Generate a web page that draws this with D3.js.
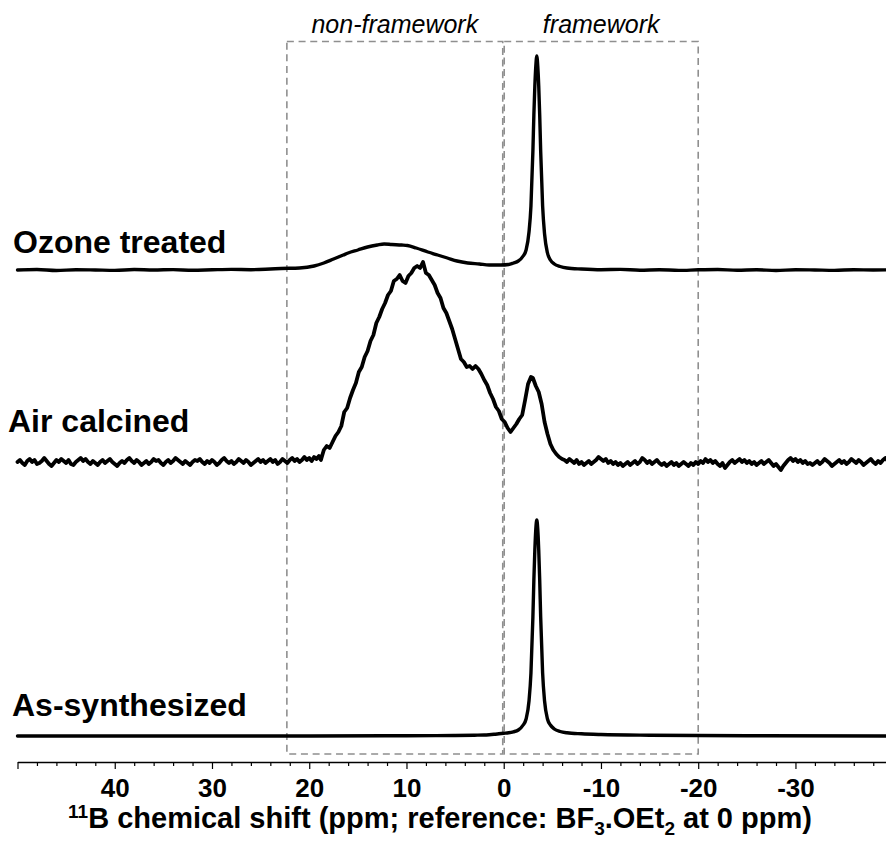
<!DOCTYPE html>
<html><head><meta charset="utf-8">
<script src="https://cdn.jsdelivr.net/npm/d3@7"></script>
<style>body{margin:0;background:#fff}svg{display:block}</style>
</head><body>
<svg id="chart" width="886" height="845"></svg>
<script>
// ---------- data ----------
const majorTicks = [40, 30, 20, 10, 0, -10, -20, -30];
const majorTickLabels = ["40", "30", "20", "10", "0", "-10", "-20", "-30"];
const minorTicks = [48,46,44,42,38,36,34,32,28,26,24,22,18,16,14,12,8,6,4,2,-2,-4,-6,-8,-12,-14,-16,-18,-22,-24,-26,-28,-32,-34,-36,-38];
const axisEndTick = [50];
const seriesNames = ["Ozone treated", "Air calcined", "As-synthesized"];
const regionNames = ["non-framework", "framework"];
const regionBounds = [[22.3, 0.1], [-0.05, -20]];

// [ppm, intensity (a.u.)]
const ozoneTreated = [
 [50,0],[48,0.5],[46,-0.5],[44,0.3],[42,0],[40,-0.4],[38,0.5],[36,0],[34,0.4],[32,-0.3],[30,0.2],[28,0.6],[26,0.3],[24,1],[22.9,1.5],[21,2],[19.5,4],[18.5,7],[17.5,11],[16.5,15],[16,17],[15,20],[14,23],[13,25],[12.3,26],[11.5,25.5],[10.5,25],[9.9,24.5],[9,22],[7.8,18],[6.8,15],[5.8,12],[4.8,9],[3.7,7],[2.5,6],[1.5,5],[0.3,5],[-0.5,5.5],[-1.0,7],[-1.5,9],[-2.0,14],[-2.3,20],[-2.6,38],[-2.8,64],[-3.0,119],[-3.1,155],[-3.2,184],[-3.3,204],[-3.4,214],[-3.5,204],[-3.6,184],[-3.7,155],[-3.8,119],[-4.0,64],[-4.2,36],[-4.5,17],[-4.8,10],[-5.2,6],[-5.8,3.5],[-6.5,2],[-8,1],[-10,0.3],[-12,0.6],[-14,-0.2],[-16,0.3],[-18,-0.4],[-20,0.2],[-22,0.5],[-24,-0.3],[-26,0.2],[-28,-0.5],[-30,0.3],[-32,0],[-34,-0.4],[-36,0.3],[-38,0],[-40,0.2]
];

const airCalcined = [
 [50,0],[49.75,2],[49.5,-1],[49.25,-3],[49,1],[48.75,3],[48.5,0],[48.25,2],[48,-2],[47.75,-1],[47.5,1],[47.25,4],[47,1],[46.75,-2],[46.5,-4],[46.25,-1],[46,2],[45.75,0],[45.5,3],[45.25,1],[45,-1],[44.75,2],[44.5,-2],[44.25,-3],[44,0],[43.75,2],[43.5,4],[43.25,1],[43,3],[42.75,0],[42.5,-2],[42.25,1],[42,-1],[41.75,-3],[41.5,0],[41.25,2],[41,-1],[40.75,1],[40.5,3],[40.25,0],[40,-2],[39.75,-4],[39.5,-1],[39.25,1],[39,-1],[38.75,2],[38.5,4],[38.25,1],[38,-1],[37.75,2],[37.5,0],[37.25,-3],[37,-1],[36.75,1],[36.5,-2],[36.25,0],[36,3],[35.75,1],[35.5,2],[35.25,-1],[35,-3],[34.75,0],[34.5,2],[34.25,-1],[34,1],[33.75,4],[33.5,2],[33.25,0],[33,-2],[32.75,1],[32.5,-1],[32.25,-3],[32,0],[31.75,2],[31.5,1],[31.25,3],[31,0],[30.75,-2],[30.5,1],[30.25,-1],[30,2],[29.75,0],[29.5,-3],[29.25,-1],[29,2],[28.75,4],[28.5,1],[28.25,-1],[28,1],[27.75,-2],[27.5,0],[27.25,3],[27,1],[26.75,-1],[26.5,2],[26.25,0],[26,-3],[25.75,-1],[25.5,1],[25.25,3],[25,0],[24.75,2],[24.5,-1],[24.25,1],[24,3],[23.75,0],[23.5,2],[23.25,-2],[23,0],[22.75,3],[22.5,1],[22.25,-1],[22,2],[21.75,4],[21.5,1],[21.25,3],[21,0],[20.75,2],[20.5,5],[20.25,2],[20,4],[19.75,1],[19.5,5],[19.25,3],[19,6],
 [18.8,2],[18.5,12],[18.2,16],[17.9,14],[17.6,20],[17.3,26],[17.0,30],[16.7,36],[16.4,50],[16.1,54],[15.8,64],[15.5,72],[15.2,79],[14.9,90],[14.6,95],[14.3,105],[14.0,111],[13.7,121],[13.4,127],[13.1,139],[12.8,145],[12.5,153],[12.2,159],[11.9,167],[11.6,171],[11.3,181],[11.0,183],[10.7,187],[10.4,181],[10.1,179],[9.8,186],[9.5,189],[9.2,194],[8.9,196],[8.6,194],[8.3,200],[8.0,189],[7.7,187],[7.4,182],[7.1,177],[6.8,169],[6.5,164],[6.2,154],[5.9,149],[5.6,141],[5.3,133],[5.0,123],[4.7,113],[4.4,103],[4.1,100],[3.8,95],[3.5,96],[3.2,93],[2.9,96],[2.6,93],[2.3,88],[2.0,82],[1.7,77],[1.4,69],[1.1,63],[0.8,55],[0.5,51],[0.2,43],[-0.1,40],[-0.4,34],[-0.7,30],[-1.0,34],[-1.3,38],[-1.6,43],[-1.9,47],[-2.2,62],[-2.5,78],[-2.8,85],[-3.0,84],[-3.3,76],[-3.6,70],[-3.9,58],[-4.2,40],[-4.5,28],[-4.8,18],[-5.1,12],[-5.4,8],[-5.7,5],[-6.0,3],
 [-6.25,2],[-6.5,0],[-6.75,3],[-7,1],[-7.25,-1],[-7.5,2],[-7.75,-2],[-8,0],[-8.25,-3],[-8.5,-1],[-8.75,1],[-9,-2],[-9.25,0],[-9.5,2],[-9.75,5],[-10,3],[-10.25,1],[-10.5,3],[-10.75,-1],[-11,1],[-11.25,-2],[-11.5,0],[-11.75,-3],[-12,-1],[-12.25,-4],[-12.5,-2],[-12.75,0],[-13,-3],[-13.25,-1],[-13.5,1],[-13.75,-2],[-14,0],[-14.25,4],[-14.5,2],[-14.75,-1],[-15,1],[-15.25,-2],[-15.5,0],[-15.75,2],[-16,-1],[-16.25,-3],[-16.5,-1],[-16.75,-4],[-17,-2],[-17.25,0],[-17.5,-3],[-17.75,-1],[-18,-4],[-18.25,-2],[-18.5,0],[-18.75,-2],[-19,-4],[-19.25,-1],[-19.5,-3],[-19.75,0],[-20,-2],[-20.25,1],[-20.5,-1],[-20.75,3],[-21,0],[-21.25,2],[-21.5,-1],[-21.75,1],[-22,-2],[-22.25,-4],[-22.5,-1],[-22.75,-6],[-23,-3],[-23.25,0],[-23.5,2],[-23.75,-1],[-24,1],[-24.25,3],[-24.5,0],[-24.75,2],[-25,-1],[-25.25,1],[-25.5,-2],[-25.75,0],[-26,-3],[-26.25,-1],[-26.5,1],[-26.75,-2],[-27,0],[-27.25,2],[-27.5,-1],[-27.75,-4],[-28,-2],[-28.25,-5],[-28.5,-8],[-28.75,-4],[-29,-1],[-29.25,2],[-29.5,4],[-29.75,1],[-30,3],[-30.25,0],[-30.5,2],[-30.75,-1],[-31,1],[-31.25,-2],[-31.5,-1],[-31.75,-3],[-32,-1],[-32.25,1],[-32.5,-2],[-32.75,0],[-33,3],[-33.25,1],[-33.5,-1],[-33.75,-4],[-34,-2],[-34.25,0],[-34.5,2],[-34.75,-1],[-35,1],[-35.25,-2],[-35.5,0],[-35.75,3],[-36,1],[-36.25,-1],[-36.5,2],[-36.75,0],[-37,-3],[-37.25,-1],[-37.5,1],[-37.75,3],[-38,0],[-38.25,-2],[-38.5,1],[-38.75,-1],[-39,2],[-39.25,4],[-39.5,1],[-39.75,-1],[-40,1]
];

const asSynthesized = [
 [50,0],[30,0],[20,0],[10,0.3],[5,0.5],[3,0.8],[2,1],[1.5,1.3],[1.0,1.7],[0.5,2.2],[0,2.7],[-0.5,3.2],[-1.0,4.2],[-1.5,6],[-2.0,11],[-2.3,17],[-2.6,35],[-2.8,63],[-3.0,119],[-3.1,156],[-3.2,186],[-3.3,207],[-3.4,216],[-3.5,207],[-3.6,186],[-3.7,156],[-3.8,119],[-4.0,63],[-4.2,35],[-4.5,17],[-4.8,11],[-5.2,7],[-5.8,4.5],[-6.5,3.2],[-8,2.2],[-10,1.5],[-15,0.8],[-25,0.3],[-40,0]
];

// ---------- layout ----------
const svg = d3.select("#chart");
const FONT = "'Liberation Sans', Arial, Helvetica, sans-serif";
const x = d3.scaleLinear().domain([50, -40]).range([17.5, 892.7]);
const y = d3.scaleLinear().domain([0, 720]).range([755, 35]);
const axisY = 762;

const seriesData = [ozoneTreated, airCalcined, asSynthesized];
const seriesOffsets = [485, 293, 19];
const seriesCurves = [d3.curveMonotoneX, d3.curveLinear, d3.curveMonotoneX];
const seriesWidths = [3.4, 3.8, 3.4];
const labelPos = [[13, 253], [8, 432], [12, 716]];

// region boxes
const boxTop = 41.5, boxBottom = 754;
svg.append("g").selectAll("rect").data(regionBounds).join("rect")
  .attr("x", d => x(d[0])).attr("y", boxTop)
  .attr("width", d => x(d[1]) - x(d[0])).attr("height", boxBottom - boxTop)
  .attr("fill", "none").attr("stroke", "#8f8f8f").attr("stroke-width", 1.6)
  .attr("stroke-dasharray", "7,4.7");

svg.append("g").selectAll("text").data(regionNames).join("text")
  .attr("x", (d, i) => (x(regionBounds[i][0]) + x(regionBounds[i][1])) / 2)
  .attr("y", 33).attr("text-anchor", "middle")
  .attr("font-family", FONT).attr("font-style", "italic").attr("font-size", 25)
  .text(d => d);

// spectra
seriesData.forEach((data, i) => {
  const line = d3.line().curve(seriesCurves[i])
    .x(d => x(d[0])).y(d => y(d[1] + seriesOffsets[i]));
  svg.append("path").datum(data).attr("d", line)
    .attr("fill", "none").attr("stroke", "#000").attr("stroke-width", seriesWidths[i])
    .attr("stroke-linejoin", "round").attr("stroke-linecap", "round");
});

svg.append("g").selectAll("text").data(seriesNames).join("text")
  .attr("x", (d, i) => labelPos[i][0]).attr("y", (d, i) => labelPos[i][1])
  .attr("font-family", FONT).attr("font-weight", "bold").attr("font-size", 32)
  .text(d => d);

// axis
const gMinor = svg.append("g").attr("transform", `translate(0,${axisY})`)
  .call(d3.axisBottom(x).tickValues(minorTicks).tickSize(4).tickSizeOuter(0).tickFormat(""));
const gEnd = svg.append("g").attr("transform", `translate(0,${axisY})`)
  .call(d3.axisBottom(x).tickValues(axisEndTick).tickSize(7).tickSizeOuter(0).tickFormat(""));
gEnd.select(".domain").remove();
const gMajor = svg.append("g").attr("transform", `translate(0,${axisY})`)
  .call(d3.axisBottom(x).tickValues(majorTicks).tickSize(7).tickSizeOuter(0).tickPadding(10)
    .tickFormat((d, i) => majorTickLabels[i]));
gMajor.select(".domain").remove();
[gMinor, gEnd, gMajor].forEach(g => {
  g.selectAll("line").attr("stroke", "#000").attr("stroke-width", 1.2);
  g.selectAll(".domain").attr("stroke", "#000").attr("stroke-width", 1.3);
});
gMajor.selectAll("text").attr("font-family", FONT).attr("font-weight", "bold")
  .attr("font-size", 26).attr("fill", "#000");

// axis title
const title = svg.append("text").attr("x", 440).attr("y", 828).attr("text-anchor", "middle")
  .attr("font-family", FONT).attr("font-weight", "bold").attr("font-size", 29);
title.append("tspan").attr("font-size", 19).attr("dy", -10).text("11");
title.append("tspan").attr("dy", 10).text("B chemical shift (ppm; reference: BF");
title.append("tspan").attr("font-size", 19).attr("dy", 7).text("3");
title.append("tspan").attr("dy", -7).text(".OEt");
title.append("tspan").attr("font-size", 19).attr("dy", 7).text("2");
title.append("tspan").attr("dy", -7).text(" at 0 ppm)");
</script>
</body></html>
